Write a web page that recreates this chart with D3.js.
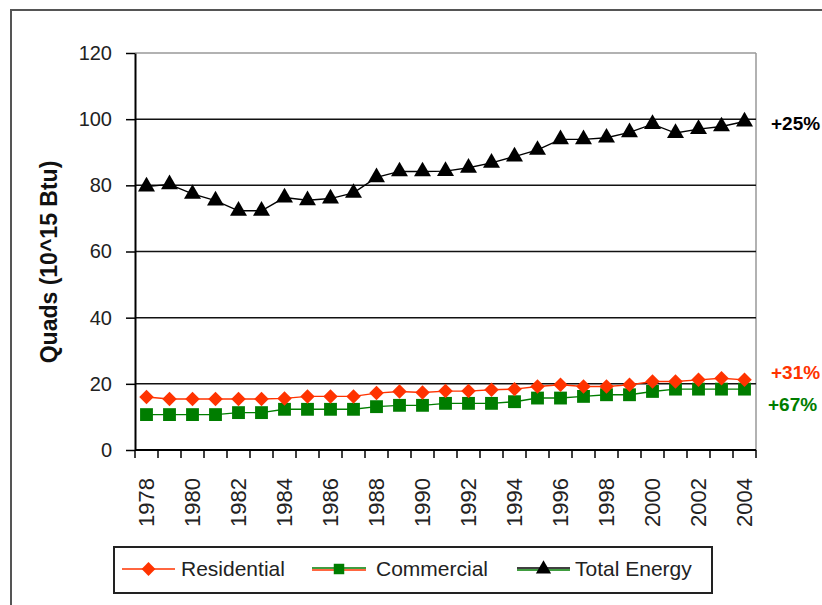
<!DOCTYPE html>
<html>
<head>
<meta charset="utf-8">
<script src="https://cdn.jsdelivr.net/npm/d3@7"></script>
<style>
  html, body { margin: 0; padding: 0; background: #fff; }
  svg { display: block; font-family: "Liberation Sans", Arial, sans-serif; }
</style>
</head>
<body>
<svg id="chart" width="822" height="605"></svg>
<script>
const years = [1978,1979,1980,1981,1982,1983,1984,1985,1986,1987,1988,1989,1990,1991,1992,1993,1994,1995,1996,1997,1998,1999,2000,2001,2002,2003,2004];
const residential = [16.0,15.4,15.4,15.4,15.4,15.4,15.6,16.2,16.2,16.2,17.2,17.7,17.4,17.8,17.8,18.2,18.4,19.2,19.7,19.2,19.2,19.7,20.7,20.7,21.2,21.7,21.2];
const commercial = [10.7,10.7,10.7,10.7,11.3,11.3,12.3,12.3,12.3,12.3,13.1,13.5,13.5,14.1,14.1,14.1,14.6,15.7,15.7,16.2,16.7,16.7,17.7,18.4,18.4,18.4,18.4];
const totalEnergy = [79.6,80.3,77.4,75.4,72.3,72.3,76.3,75.5,76.0,77.7,82.4,84.2,84.2,84.3,85.3,86.8,88.7,90.7,93.9,93.9,94.4,96.0,98.5,95.8,97.0,97.8,99.3];
const yTicks = [0,20,40,60,80,100,120];
const xTickLabels = [1978,1980,1982,1984,1986,1988,1990,1992,1994,1996,1998,2000,2002,2004];
const seriesNames = ["Residential","Commercial","Total Energy"];
const changeLabels = ["+31%","+67%","+25%"];

(function () {
const RED = "#ff3300", GREEN = "#007d00", BLACK = "#000";
const svg = d3.select("#chart");

const pL = 135, pR = 756, pT = 53, pB = 450;
const x = d3.scaleBand().domain(years).range([pL, pR]).padding(0);
const y = d3.scaleLinear().domain([0, 120]).range([pB, pT]);
const cx = d => x(d) + x.bandwidth() / 2;

// square diamond symbol (rotated square)
const squareDiamond = {
  draw(ctx, size) {
    const r = Math.sqrt(size / 2);
    ctx.moveTo(0, -r); ctx.lineTo(r, 0); ctx.lineTo(0, r); ctx.lineTo(-r, 0); ctx.closePath();
  }
};

// outer frame
svg.append("rect").attr("x", 11).attr("y", 10).attr("width", 830).attr("height", 620)
  .attr("fill", "none").attr("stroke", "#555").attr("stroke-width", 2);

// plot border (top/right grey)
svg.append("line").attr("x1", pL).attr("x2", pR).attr("y1", pT).attr("y2", pT)
  .attr("stroke", "#999").attr("stroke-width", 1.5);
svg.append("line").attr("x1", pR).attr("x2", pR).attr("y1", pT).attr("y2", pB)
  .attr("stroke", "#999").attr("stroke-width", 1.5);

// gridlines
svg.append("g").selectAll("line").data(yTicks.filter(t => t > 0 && t < 120)).join("line")
  .attr("x1", pL).attr("x2", pR).attr("y1", d => y(d)).attr("y2", d => y(d))
  .attr("stroke", "#111").attr("stroke-width", 1.5);

// y axis
const yAxis = d3.axisLeft(y).tickValues(yTicks).tickSize(9).tickPadding(14).tickSizeOuter(0);
const gy = svg.append("g").attr("transform", `translate(${pL},0)`).call(yAxis);
gy.select(".domain").attr("stroke", "#000").attr("stroke-width", 2);
gy.selectAll(".tick line").attr("stroke", "#000").attr("stroke-width", 1.5);
gy.selectAll(".tick text").attr("font-size", 20).attr("fill", "#222")
  .attr("font-family", "Liberation Sans, Arial, sans-serif");

// x axis with ticks at band boundaries
const xb = d3.scaleLinear().domain([0, years.length]).range([pL, pR]);
const gx = svg.append("g").attr("transform", `translate(0,${pB})`);
gx.append("line").attr("x1", pL).attr("x2", pR).attr("stroke", "#000").attr("stroke-width", 2);
gx.selectAll("line.tk").data(d3.range(years.length + 1)).join("line").attr("class", "tk")
  .attr("x1", d => xb(d)).attr("x2", d => xb(d)).attr("y1", 0).attr("y2", 8)
  .attr("stroke", "#000").attr("stroke-width", 1.5);
gx.selectAll("text").data(xTickLabels).join("text")
  .attr("transform", d => `translate(${cx(d) + 7},28) rotate(-90)`)
  .attr("text-anchor", "end").attr("font-size", 22).attr("fill", "#222")
  .text(d => d);

// y axis title
svg.append("text").attr("transform", "translate(57,262) rotate(-90)")
  .attr("text-anchor", "middle").attr("font-size", 23).attr("font-weight", "bold").attr("fill", "#111")
  .text("Quads (10^15 Btu)");

// lines
const line = d3.line().x((d, i) => cx(years[i])).y(d => y(d));
function drawSeries(vals, color, shape, size) {
  svg.append("path").datum(vals).attr("d", line).attr("fill", "none")
    .attr("stroke", color).attr("stroke-width", 1.4);
  svg.append("g").selectAll("path").data(vals).join("path")
    .attr("d", d3.symbol().type(shape).size(size))
    .attr("transform", (d, i) => `translate(${cx(years[i])},${y(d)})`)
    .attr("fill", color);
}
drawSeries(commercial, GREEN, d3.symbolSquare, 165);
drawSeries(residential, RED, squareDiamond, 105);
drawSeries(totalEnergy, BLACK, d3.symbolTriangle, 125);

// change labels
const lblX = 771;
svg.append("text").attr("x", lblX).attr("y", 123).attr("dy", "0.35em").attr("font-size", 19)
  .attr("font-weight", "bold").attr("fill", BLACK).text(changeLabels[2]);
svg.append("text").attr("x", lblX).attr("y", 372).attr("dy", "0.35em").attr("font-size", 19)
  .attr("font-weight", "bold").attr("fill", RED).text(changeLabels[0]);
svg.append("text").attr("x", lblX - 3).attr("y", 404).attr("dy", "0.35em").attr("font-size", 19)
  .attr("font-weight", "bold").attr("fill", GREEN).text(changeLabels[1]);

// legend
svg.append("rect").attr("x", 114).attr("y", 547).attr("width", 598).attr("height", 46)
  .attr("fill", "#fff").attr("stroke", "#222").attr("stroke-width", 2);
const legY = 569;
const legItems = [
  {name: seriesNames[0], x0: 122, x1: 175, lines: [[RED, 0]], color: RED, shape: squareDiamond, size: 95, tx: 181},
  {name: seriesNames[1], x0: 312, x1: 366, lines: [[GREEN, -1], [RED, 1]], color: GREEN, shape: d3.symbolSquare, size: 110, tx: 376},
  {name: seriesNames[2], x0: 517, x1: 570, lines: [[BLACK, -1], [GREEN, 1]], color: BLACK, shape: d3.symbolTriangle, size: 100, tx: 575}
];
const lg = svg.append("g");
legItems.forEach(it => {
  it.lines.forEach(([c, off]) => {
    lg.append("line").attr("x1", it.x0).attr("x2", it.x1).attr("y1", legY + off).attr("y2", legY + off)
      .attr("stroke", c).attr("stroke-width", 1.5);
  });
  lg.append("path").attr("d", d3.symbol().type(it.shape).size(it.size)())
    .attr("transform", `translate(${(it.x0 + it.x1) / 2},${legY})`).attr("fill", it.color);
  lg.append("text").attr("x", it.tx).attr("y", legY).attr("dy", "0.35em")
    .attr("font-size", 21).attr("fill", "#222").text(it.name);
});
})();
</script>
</body>
</html>
